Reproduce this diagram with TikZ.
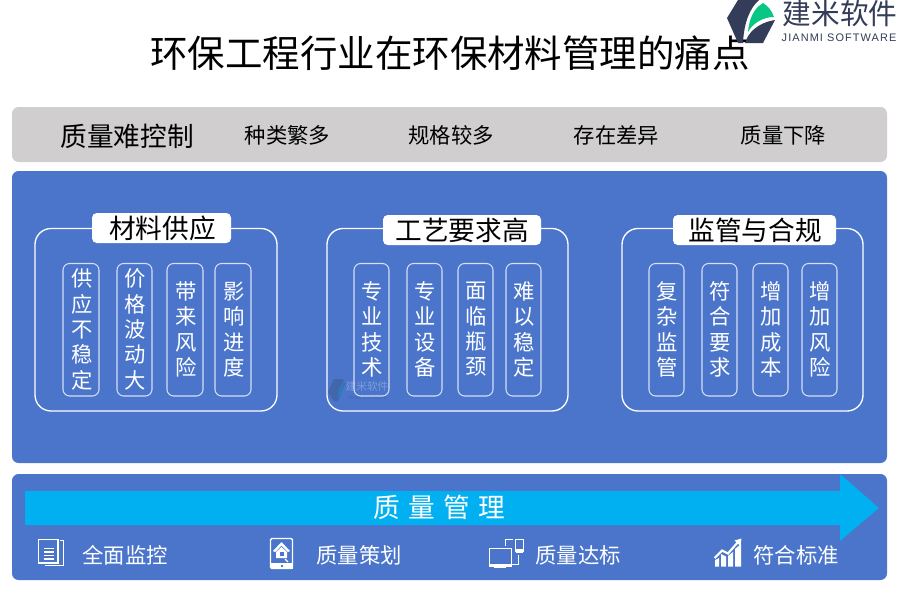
\documentclass[tikz,border=0pt]{standalone}
\usepackage{fontspec}
\setmainfont{Noto Sans CJK SC}
\newfontfamily\latinfont{Liberation Sans}
\definecolor{panelblue}{HTML}{4A75CB}
\definecolor{panelgray}{HTML}{D0CECE}
\definecolor{arrowblue}{HTML}{00B0F0}
\definecolor{logonavy}{HTML}{333C58}
\definecolor{logogreen}{HTML}{08C785}
\definecolor{innerline}{HTML}{D5DEF3}
\tikzset{
  panel/.style={rounded corners=5pt,draw=none},
  outerbox/.style={draw=white,line width=1pt,rounded corners=12pt,fill=none},
  headbox/.style={fill=white,rounded corners=3.5pt,draw=none},
  headtext/.style={font=\fontsize{20}{24}\selectfont,text=black,inner sep=0pt},
  pillbox/.style={draw=innerline,line width=.8pt,rounded corners=5pt,fill=none},
  pilltext/.style={font=\fontsize{16}{19}\selectfont,text=white,align=center,inner sep=0pt},
  graytext/.style={font=\fontsize{16}{19}\selectfont,text=black,inner sep=0pt},
  foottext/.style={font=\fontsize{16}{19}\selectfont,text=white,inner sep=0pt},
  icon/.style={draw=white,line width=.8pt,fill=none},
  iconfill/.style={fill=white,draw=none},
}
\newcommand{\pill}[5]{% name, x0, x1, text
  \draw[pillbox] (#2,263.5) rectangle (#3,396);
  \node[pilltext] (#1) at ({(#2+#3)/2+1},329.5) {#4};
}
\begin{document}
\begin{tikzpicture}[x=.75pt,y=-.75pt]
\useasboundingbox (0,0) rectangle (900,600);
\fill[white] (0,0) rectangle (900,600);
% title
\node[inner sep=0pt,font=\fontsize{28.1}{32}\selectfont] (title) at (450,53) {环保工程行业在环保材料管理的痛点};
% logo
\fill[logonavy] (727,18) -- (738,0) -- (759,0) .. controls (750,8) and (744,22) .. (743,43) -- (738,43) -- cycle;
\fill[logogreen] (748,32) .. controls (749,20) and (753,9) .. (763,3) .. controls (768,6) and (772,11) .. (774,17) .. controls (763,17) and (753,23) .. (748,32) -- cycle;
\fill[logonavy] (775,20) -- (763,43) -- (745,43) .. controls (748,33) and (757,23) .. (775,20) -- cycle;
\node[inner sep=0pt,text=logonavy,font=\fontsize{21.5}{24}\selectfont] (brand) at (840,14) {建米软件};
\node[inner sep=0pt,text=logonavy,font=\latinfont\fontsize{8.2}{10}\selectfont] (brandlatin) at (839,38) {\addfontfeatures{LetterSpace=10}JIANMI SOFTWARE};
% panels
\fill[panel,panelgray] (12,107) rectangle (887,162);
\fill[panel,panelblue] (12,171) rectangle (887,463);
\fill[panel,panelblue] (12,474) rectangle (887,580);
% gray row
\node[inner sep=0pt,font=\fontsize{20}{24}\selectfont] (q0) at (127,136) {质量难控制};
\node[graytext] (q1) at (287.5,135) {种类繁多};
\node[graytext] (q2) at (451,135) {规格较多};
\node[graytext] (q3) at (616.5,135) {存在差异};
\node[graytext] (q4) at (783.5,135) {质量下降};
% watermark
\begin{scope}[opacity=.28]
\fill[logonavy] (328,392) -- (334,379) -- (343,379) -- (345,384) -- (338,401) -- (334,401) -- cycle;
\fill[arrowblue] (337,399) .. controls (338,390) and (340,384) .. (344,381) .. controls (344,388) and (342,394) .. (337,399) -- cycle;
\node[inner sep=0pt,text=white,font=\fontsize{8}{9}\selectfont] (wm) at (367,386) {建米软件};
\node[inner sep=0pt,text=logonavy,font=\latinfont\fontsize{3.2}{4}\selectfont] (wmlatin) at (367,398) {JIANMI SOFTWARE};
\end{scope}
% group 1
\draw[outerbox] (35,228.5) rectangle (277,411);
\fill[headbox] (92,213) rectangle (231,243);
\node[headtext] (g1) at (162.5,228) {材料供应};
\pill{a1}{63}{99}{供\\应\\不\\稳\\定}{}
\pill{a2}{117}{152}{价\\格\\波\\动\\大}{}
\pill{a3}{167}{203}{带\\来\\风\\险}{}
\pill{a4}{215}{251}{影\\响\\进\\度}{}
% group 2
\draw[outerbox] (327,228.5) rectangle (568,411);
\fill[headbox] (383,215) rectangle (541,245);
\node[headtext] (g2) at (462,230) {工艺要求高};
\pill{b1}{354}{389}{专\\业\\技\\术}{}
\pill{b2}{407}{442}{专\\业\\设\\备}{}
\pill{b3}{458}{493}{面\\临\\瓶\\颈}{}
\pill{b4}{506}{541}{难\\以\\稳\\定}{}
% group 3
\draw[outerbox] (622,228.5) rectangle (863,411);
\fill[headbox] (673,215) rectangle (836,245);
\node[headtext] (g3) at (755,230) {监管与合规};
\pill{c1}{649}{684}{复\\杂\\监\\管}{}
\pill{c2}{702}{737}{符\\合\\要\\求}{}
\pill{c3}{753}{788}{增\\加\\成\\本}{}
\pill{c4}{802}{837}{增\\加\\风\\险}{}
% arrow
\fill[arrowblue] (25,491) -- (840,491) -- (840,474) -- (879,508) -- (840,541) -- (840,525) -- (25,525) -- cycle;
\node[inner sep=0pt,text=white,font=\fontsize{20}{24}\selectfont] (arrowlabel) at (439,507) {\spaceskip=6.3pt 质 量 管 理};
% footer
\node[foottext] (f1) at (125,555) {全面监控};
\node[foottext] (f2) at (359,555) {质量策划};
\node[foottext] (f3) at (578,555) {质量达标};
\node[foottext] (f4) at (796,555) {符合标准};
% icon doc
\draw[icon] (38.5,539.5) rectangle (58,563);
\draw[icon] (60,540.5) -- (63.5,540.5) -- (63.5,565.5) -- (45,565.5);
\draw[icon] (43.5,548.5) -- (54,548.5) (43.5,552) -- (54,552) (43.5,555.5) -- (54,555.5) (43.5,559) -- (54,559);
% icon tablet
\draw[icon,line width=1pt] (270.5,538.5) [rounded corners=1pt] rectangle (292.5,568.5);
\fill[iconfill] (270.5,563) rectangle (292.5,568.5);
\fill[panelblue] (280.5,564.5) rectangle (282.5,566.5);
\fill[iconfill] (273,551) -- (281.5,542) -- (290,551) -- (288,552) -- (281.5,545.5) -- (275,552) -- cycle;
\fill[iconfill] (276,552) -- (281.5,547) -- (287,552) -- (287,558) -- (276,558) -- cycle;
\fill[panelblue] (279.5,552) rectangle (283.5,556);
\draw[icon] (285,559) -- (288,562);
% icon devices
\draw[icon,line width=.5pt] (489.5,548.5) rectangle (511,565);
\fill[iconfill] (489,563.5) rectangle (511.5,566.5);
\fill[iconfill] (494,566.5) rectangle (506,567.5);
\draw[icon,line width=.5pt] (515.5,539) rectangle (523,551);
\fill[iconfill] (515.5,549) rectangle (523,552.5);
\draw[icon,line width=.6pt] (513,539.5) -- (505.5,539.5) -- (505.5,546);
\draw[icon,line width=.6pt] (518,555) -- (518,564.5) -- (512,564.5);
% icon chart
\fill[iconfill] (715,560) -- (719,558) -- (719,566.5) -- (715,566.5) -- cycle;
\fill[iconfill] (721,554) -- (726,556.5) -- (726,566.5) -- (721,566.5) -- cycle;
\fill[iconfill] (728,556) -- (733,552) -- (733,566.5) -- (728,566.5) -- cycle;
\fill[iconfill] (735,549) -- (741,544) -- (741,566.5) -- (735,566.5) -- cycle;
\draw[white,line width=1.6pt] (714.5,558) -- (722,550.5) -- (728,553.5) -- (738,542);
\fill[iconfill] (741.5,538.5) -- (740.5,546) -- (734.5,540.5) -- cycle;
\end{tikzpicture}
\end{document}
